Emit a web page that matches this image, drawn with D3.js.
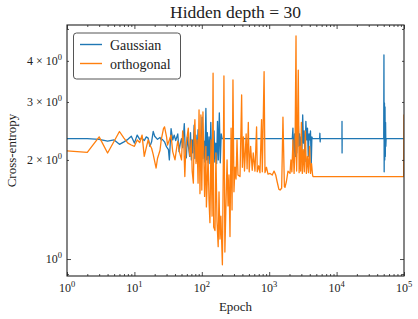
<!DOCTYPE html>
<html>
<head>
<meta charset="utf-8">
<script src="https://cdn.jsdelivr.net/npm/d3@7"></script>
<style>
  body { margin: 0; background: #fff; }
  svg { display: block; }
  text { font-family: "Liberation Serif", "DejaVu Serif", serif; }
</style>
</head>
<body>
<div id="chart"></div>
<script>
// [epoch, cross-entropy]
const gaussian = [
  [1,2.32],[2,2.32],[3,2.31],[4,2.28],[5,2.30],[6,2.23],[7,2.27],[8,2.31],[9,2.36],[10,2.25],
  [11,2.38],[12,2.31],[13,2.33],[14,2.29],[15,2.35],[16,2.33],[17,2.20],[18,2.27],[19,2.44],[20,2.36],
  [22,2.31],[24,2.34],[25,2.30],[26,2.31],[28,2.27],[30,2.19],[32,2.15],[33,2.00],[35,2.49],[37,2.30],
  [39,2.38],[41,2.29],[44,2.40],[46,2.12],[48,2.25],[50,2.32],[52,2.18],[55,2.58],[57,2.10],[59,2.03],
  [61,2.35],[63,2.22],[66,2.05],[68,2.42],[70,2.00],[72,2.30],[74,2.10],[77,2.55],[79,2.02],[82,2.38],
  [85,1.98],[88,2.47],[90,2.05],[94,2.33],[97,1.99],[101,2.70],[104,2.02],[108,2.28],[111,1.97],[115,2.87],
  [118,2.00],[121,2.42],[124,1.96],[128,2.35],[132,1.95],[136,2.60],[140,1.98],[144,2.30],[148,1.94],[152,2.45],
  [156,1.97],[161,2.25],[166,1.95],[171,2.62],[176,2.00],[182,2.78],[188,1.96],[194,2.40],[200,2.32],
  [2200,2.32],[2250,2.50],[2300,1.97],[2380,2.40],[2450,2.05],[2500,2.87],[2560,2.10],[2640,2.45],[2700,2.62],[2760,2.20],
  [2830,2.40],[2900,2.00],[2980,2.35],[3060,2.15],[3140,2.74],[3220,2.25],[3300,2.45],[3400,1.98],[3500,2.62],[3600,2.30],
  [3700,2.50],[3800,2.05],[3900,2.40],[4000,2.30],[4100,2.45],[4200,1.91],[4300,2.35],[4400,2.32],
  [5600,2.32],[5650,2.41],[5700,2.27],[5750,2.32],
  [12000,2.32],[12030,2.62],[12060,2.10],[12100,2.32],
  [50000,2.32],[50400,4.17],[50800,1.84],[51300,2.98],[51800,2.00],[52300,2.90],[52800,2.05],[53300,2.60],[53800,2.20],[54300,2.32],
  [100000,2.32]
];

const orthogonal = [
  [1,2.13],[2,2.11],[3,2.35],[4,2.10],[5,2.28],[6,2.44],[7,2.33],[8,2.25],[9,2.22],[10,2.20],
  [11,2.30],[12,2.26],[13,2.38],[14,2.05],[15,2.18],[16,2.30],[17,2.22],[18,2.17],[19,2.08],[21,1.89],
  [22,2.02],[24,2.14],[25,2.30],[27,2.49],[28,2.52],[30,2.35],[31,2.22],[33,2.30],[35,2.38],[37,2.12],
  [40,2.00],[42,2.15],[44,2.28],[47,2.10],[50,2.00],[52,2.45],[54,2.25],[56,1.78],[58,2.20],[63,2.50],
  [65,2.15],[67,2.05],[70,2.30],[72,1.85],[75,1.70],[77,2.40],[79,2.65],[82,1.95],[85,2.30],[88,1.70],
  [91,2.84],[94,1.58],[97,2.74],[100,1.62],[104,2.80],[110,1.55],[115,2.20],[117,1.44],[124,2.05],[128,1.50],
  [132,1.29],[137,2.30],[142,1.35],[147,3.67],[150,1.25],[157,1.22],[162,2.10],[168,1.30],[175,1.09],[180,1.60],
  [186,1.15],[192,1.35],[202,0.96],[208,1.85],[213,3.60],[220,1.05],[229,1.50],[237,2.00],[245,1.45],[253,1.80],
  [262,1.17],[272,2.50],[281,1.41],[290,3.50],[300,1.60],[311,1.90],[322,1.75],[333,2.30],[344,1.80],[369,1.78],
  [390,3.15],[400,1.90],[415,2.35],[430,1.85],[455,2.40],[470,1.88],[490,2.60],[505,1.84],[530,2.20],[560,1.86],
  [580,2.10],[615,1.85],[650,2.52],[665,1.84],[700,1.92],[730,1.83],[770,2.65],[790,1.84],[840,3.71],[866,1.83],
  [910,1.90],[960,1.81],[1030,1.82],[1110,1.80],[1180,1.85],[1250,1.80],[1310,1.72],[1390,1.63],[1450,1.62],[1530,1.64],
  [1600,2.70],[1680,1.66],[1715,1.65],[1800,1.72],[1900,1.85],[2036,1.82],[2100,2.00],[2170,1.84],[2250,2.30],[2340,1.82],
  [2415,2.10],[2500,4.76],[2550,1.85],[2620,2.35],[2700,3.75],[2780,1.83],[2864,2.20],[2930,1.85],[3000,2.60],[3100,1.82],
  [3200,2.15],[3320,1.84],[3440,2.45],[3560,1.82],[3700,2.05],[3830,1.83],[3970,2.20],[4100,1.82],[4250,1.95],[4400,1.80],
  [4470,1.78],[99000,1.78],[100000,2.75]
];

const xDomain = [1, 100000];
const yDomain = [0.888, 5.14];
const xMajor = [1, 10, 100, 1000, 10000, 100000];
const xExp = ["0", "1", "2", "3", "4", "5"];
const xMinor = [2,3,4,5,6,7,8,9,20,30,40,50,60,70,80,90,200,300,400,500,600,700,800,900,
                2000,3000,4000,5000,6000,7000,8000,9000,20000,30000,40000,50000,60000,70000,80000,90000];
const yMajor = [1];
const yMinor = [0.9, 2, 3, 4, 5];
const yLabeled = [2, 3, 4];

const W = 418, H = 319;
const m = {left: 67, right: 14, top: 25, bottom: 43};
const blue = "#1f77b4", orange = "#ff7f0e";
const serif = "'Liberation Serif', 'DejaVu Serif', serif";

const svg = d3.select("#chart").append("svg")
  .attr("width", W)
  .attr("height", H)
  .attr("font-family", serif);

const x = d3.scaleLog().domain(xDomain).range([m.left, W - m.right]);
const y = d3.scaleLog().domain(yDomain).range([H - m.bottom, m.top]);

svg.append("clipPath").attr("id", "clip")
  .append("rect")
    .attr("x", m.left).attr("y", m.top)
    .attr("width", W - m.left - m.right)
    .attr("height", H - m.top - m.bottom);

const line = d3.line().x(d => x(d[0])).y(d => y(d[1]));

const plot = svg.append("g").attr("clip-path", "url(#clip)");
plot.append("path")
  .datum(gaussian)
  .attr("d", line)
  .attr("fill", "none")
  .attr("stroke", blue)
  .attr("stroke-width", 1.3)
  .attr("stroke-linejoin", "round");
plot.append("path")
  .datum(orthogonal)
  .attr("d", line)
  .attr("fill", "none")
  .attr("stroke", orange)
  .attr("stroke-width", 1.3)
  .attr("stroke-linejoin", "round");

// inward ticks on all four sides
const tickSets = [
  [d3.axisBottom, x, xMajor, 4, `translate(0,${H - m.bottom})`],
  [d3.axisBottom, x, xMinor, 2, `translate(0,${H - m.bottom})`],
  [d3.axisTop, x, xMajor, 4, `translate(0,${m.top})`],
  [d3.axisTop, x, xMinor, 2, `translate(0,${m.top})`],
  [d3.axisLeft, y, yMajor, 4, `translate(${m.left},0)`],
  [d3.axisLeft, y, yMinor, 2, `translate(${m.left},0)`],
  [d3.axisRight, y, yMajor, 4, `translate(${W - m.right},0)`],
  [d3.axisRight, y, yMinor, 2, `translate(${W - m.right},0)`]
];
tickSets.forEach(([axisFn, sc, vals, len, tr]) => {
  svg.append("g")
    .attr("transform", tr)
    .style("color", "#222")
    .call(axisFn(sc).tickValues(vals).tickSize(-len).tickFormat(""))
    .call(g => g.select(".domain").remove())
    .call(g => g.selectAll("line").attr("stroke-width", 0.8));
});

svg.append("rect")
  .attr("x", m.left).attr("y", m.top)
  .attr("width", W - m.left - m.right)
  .attr("height", H - m.top - m.bottom)
  .attr("fill", "none")
  .attr("stroke", "#222")
  .attr("stroke-width", 1.1);

// x tick labels 10^k
const xl = svg.append("g").attr("font-size", 12).attr("fill", "#222");
xMajor.forEach((v, i) => {
  const t = xl.append("text")
    .attr("x", x(v))
    .attr("y", H - m.bottom + 16)
    .attr("text-anchor", "middle");
  t.append("tspan").text("10");
  t.append("tspan").attr("dy", -5).attr("font-size", 8.5).text(xExp[i]);
});

// y tick labels
const yl = svg.append("g").attr("font-size", 12).attr("fill", "#222");
yMajor.concat(yLabeled).forEach(v => {
  const t = yl.append("text")
    .attr("x", m.left - 5)
    .attr("y", y(v) + 4)
    .attr("text-anchor", "end");
  t.append("tspan").text(v === 1 ? "10" : v + " \u00d7 10");
  t.append("tspan").attr("dy", -5).attr("font-size", 8.5).text("0");
});

svg.append("text")
  .attr("x", (m.left + W - m.right) / 2)
  .attr("y", 18)
  .attr("text-anchor", "middle")
  .attr("font-size", 17.5)
  .attr("fill", "#222")
  .text("Hidden depth = 30");

svg.append("text")
  .attr("x", (m.left + W - m.right) / 2)
  .attr("y", 311)
  .attr("text-anchor", "middle")
  .attr("font-size", 13)
  .attr("fill", "#222")
  .text("Epoch");

svg.append("text")
  .attr("transform", `translate(16,${(m.top + H - m.bottom) / 2}) rotate(-90)`)
  .attr("text-anchor", "middle")
  .attr("font-size", 13)
  .attr("fill", "#222")
  .text("Cross-entropy");

// legend
const legend = svg.append("g");
legend.append("rect")
  .attr("x", 73.5).attr("y", 33)
  .attr("width", 107).attr("height", 46)
  .attr("rx", 3)
  .attr("fill", "#fff")
  .attr("stroke", "#555")
  .attr("stroke-width", 1);
[["Gaussian", blue, 44.5], ["orthogonal", orange, 63.5]].forEach(([name, c, ly]) => {
  legend.append("line")
    .attr("x1", 80).attr("x2", 102)
    .attr("y1", ly).attr("y2", ly)
    .attr("stroke", c)
    .attr("stroke-width", 1.4);
  legend.append("text")
    .attr("x", 110)
    .attr("y", ly + 5)
    .attr("font-size", 14)
    .attr("fill", "#222")
    .text(name);
});
</script>
</body>
</html>
